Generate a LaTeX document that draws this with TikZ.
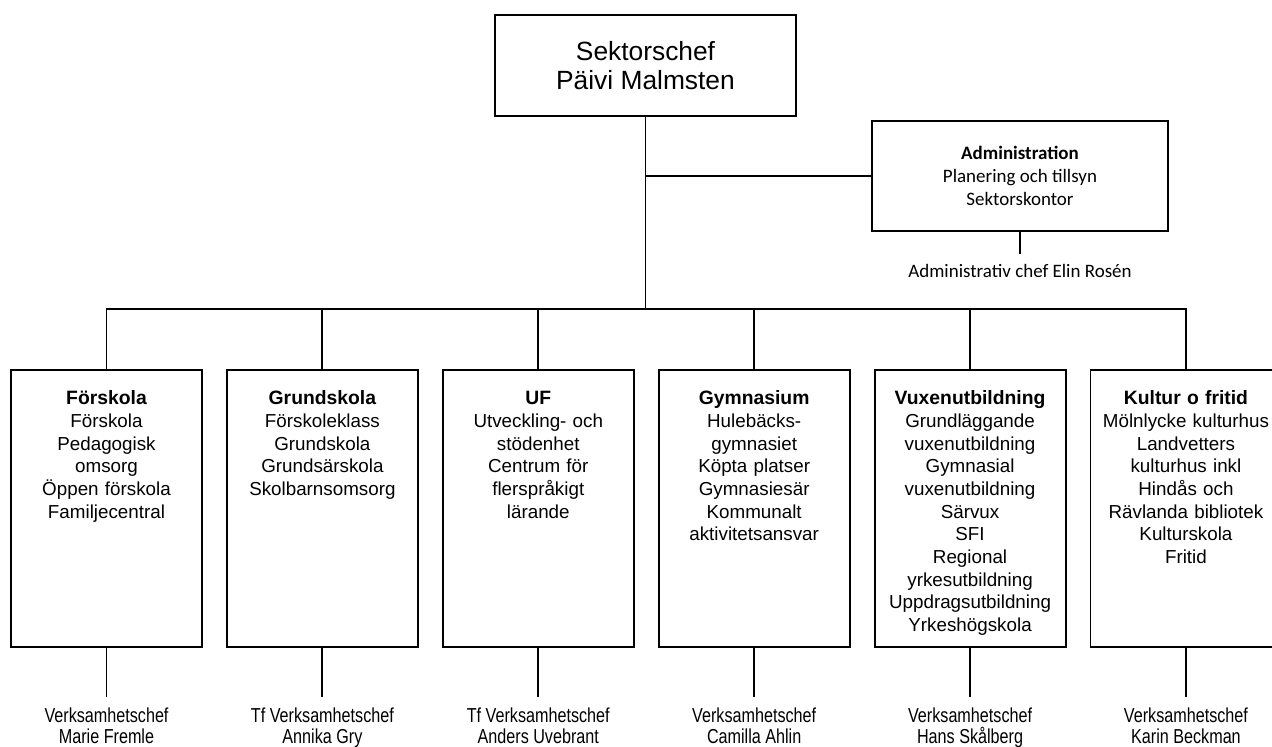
\documentclass[tikz,border=0pt]{standalone}
\usepackage{fontspec}
\setmainfont{Liberation Sans}
\newfontfamily\calfont{Carlito}
\newfontfamily\narrowfont{Liberation Sans}[FakeStretch=0.8]
\usetikzlibrary{positioning}

\begin{document}
\begin{tikzpicture}[x=0.02cm,y=-0.02cm,line width=1.1pt]
  \useasboundingbox (0,0) rectangle (1272,747);
  \clip (0,0) rectangle (1272,747);
  \node (chief) [draw, minimum width=6.02cm, minimum height=2.02cm, align=center,
    font=\fontsize{15}{16.4}\selectfont] at (645.5,65.5) {Sektorschef\\Päivi Malmsten};
  \node (admin) [draw, minimum width=5.92cm, minimum height=2.2cm, align=center,
    font=\calfont\fontsize{10.8}{13}\selectfont] at (1020,176)
    {\textbf{Administration}\\Planering och tillsyn\\Sektorskontor};
  \node (admin-chef) [below=0.44cm of admin.south, inner ysep=5.5pt,
    font=\calfont\fontsize{10.8}{13}\selectfont] {Administrativ chef Elin Rosén};
  \begin{scope}[every node/.style={draw, text width=3.6cm, inner xsep=0.11cm, inner ysep=0pt,
      align=center, text height=0.7cm, text depth=4.84cm, font=\fontsize{10.7}{12.9}\selectfont},
      node distance=0.46cm]
    \node (forsk) [anchor=north] at (106.5,369) {{\bfseries\fontsize{11}{12.9}\selectfont Förskola}\\Förskola\\Pedagogisk\\omsorg\\Öppen förskola\\Familjecentral};
    \node (grund) [right=of forsk] {{\bfseries\fontsize{11}{12.9}\selectfont Grundskola}\\Förskoleklass\\Grundskola\\Grundsärskola\\Skolbarnsomsorg};
    \node (uf) [right=of grund] {{\bfseries\fontsize{11}{12.9}\selectfont UF}\\Utveckling- och\\stödenhet\\Centrum för\\flerspråkigt\\lärande};
    \node (gymn) [right=of uf] {{\bfseries\fontsize{11}{12.9}\selectfont Gymnasium}\\Hulebäcks-\\gymnasiet\\Köpta platser\\Gymnasiesär\\Kommunalt\\aktivitetsansvar};
    \node (vux) [right=of gymn] {{\bfseries\fontsize{11}{12.9}\selectfont Vuxenutbildning}\\Grundläggande\\vuxenutbildning\\Gymnasial\\vuxenutbildning\\Särvux\\SFI\\Regional\\yrkesutbildning\\Uppdragsutbildning\\Yrkeshögskola};
    \node (kult) [right=of vux] {{\bfseries\fontsize{11}{12.9}\selectfont Kultur o fritid}\\Mölnlycke kulturhus\\Landvetters\\kulturhus inkl\\Hindås och\\Rävlanda bibliotek\\Kulturskola\\Fritid};
  \end{scope}
  \begin{scope}[every node/.style={align=center, inner ysep=5.5pt,
      font=\narrowfont\fontsize{11.5}{12}\selectfont}, node distance=0.98cm]
    \node (forsk-chef) [below=of forsk.south] {Verksamhetschef\\Marie Fremle};
    \node (grund-chef) [below=of grund.south] {Tf Verksamhetschef\\Annika Gry};
    \node (uf-chef) [below=of uf.south] {Tf Verksamhetschef\\Anders Uvebrant};
    \node (gymn-chef) [below=of gymn.south] {Verksamhetschef\\Camilla Ahlin};
    \node (vux-chef) [below=of vux.south] {Verksamhetschef\\Hans Skålberg};
    \node (kult-chef) [below=of kult.south] {Verksamhetschef\\Karin Beckman};
  \end{scope}
  \coordinate [below=3.84cm of chief.south] (bus);
  \draw (chief.south) -- (bus);
  \draw (chief.south |- admin.west) -- (admin.west);
  \draw (admin.south) -- (admin-chef.north);
  \foreach \dept in {forsk,grund,uf,gymn,vux,kult}
  {
    \draw (bus) -| (\dept.north);
    \draw (\dept.south) -- (\dept-chef.north);
  }
\end{tikzpicture}
\end{document}
